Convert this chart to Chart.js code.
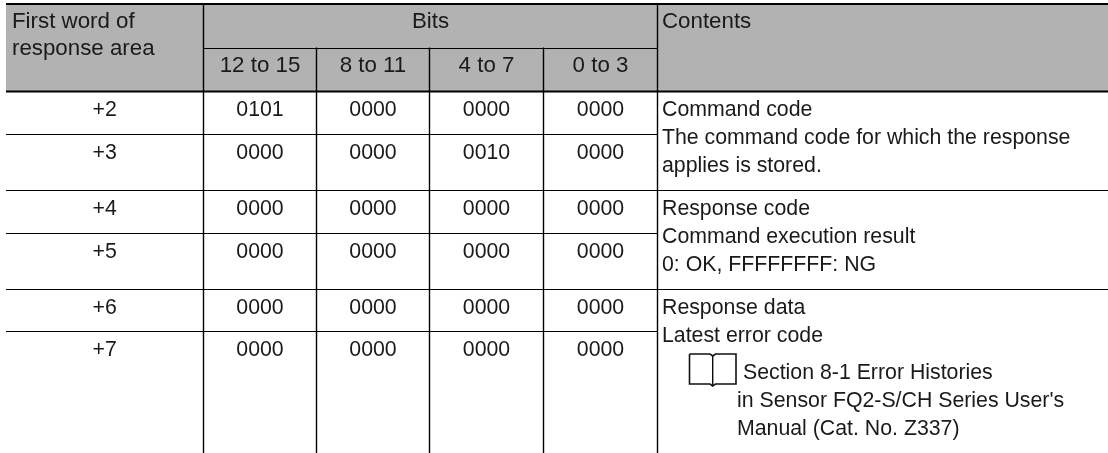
<!DOCTYPE html>
<html>
<head>
<meta charset="utf-8">
<script src="https://cdn.jsdelivr.net/npm/chart.js@4"></script>
<style>
  html, body { margin: 0; padding: 0; background: #fff; }
  #wrap { width: 1108px; height: 453px; }
</style>
</head>
<body>
<div id="wrap"><canvas id="tbl"></canvas></div>
<script>
// table content
const wordOffsets = ['+2', '+3', '+4', '+5', '+6', '+7'];
const bits12to15 = ['0101', '0000', '0000', '0000', '0000', '0000'];
const bits8to11 = ['0000', '0000', '0000', '0000', '0000', '0000'];
const bits4to7 = ['0000', '0010', '0000', '0000', '0000', '0000'];
const bits0to3 = ['0000', '0000', '0000', '0000', '0000', '0000'];
const bitColumns = [bits12to15, bits8to11, bits4to7, bits0to3];
const bitHeaders = ['12 to 15', '8 to 11', '4 to 7', '0 to 3'];
const firstHeader = ['First word of', 'response area'];
const contentsBlocks = [
  ['Command code', 'The command code for which the response', 'applies is stored.'],
  ['Response code', 'Command execution result', '0: OK, FFFFFFFF: NG'],
  ['Response data', 'Latest error code'],
];
const manualRef = ['Section 8-1 Error Histories', "in Sensor FQ2-S/CH Series User's", 'Manual (Cat. No. Z337)'];

// layout, the axes run in page pixels
const W = 1108, H = 453;
const colX = [6, 203.5, 316.5, 429.5, 543.5, 657.5, 1108];
const headTop = 4, headMid = 48.5, headBot = 91.5;
const rowLines = [91.5, 134.5, 190.5, 233.5, 289.5, 331.5, 453];
const font = '21.3px "Liberation Sans"';
const headFont = '22.3px "Liberation Sans"';
const ink = '#1a1a1a';
const lineGap = 28;

const seg = (x1, y1, x2, y2, w) => ({
  type: 'line',
  data: [{ x: x1, y: y1 }, { x: x2, y: y2 }],
  borderColor: '#000',
  borderWidth: w,
  pointRadius: 0,
  borderCapStyle: 'butt',
});

const datasets = [];
datasets.push(seg(colX[0], headTop, W, headTop, 2));
datasets.push(seg(colX[0], headBot, W, headBot, 2));
datasets.push(seg(colX[1], headMid, colX[5], headMid, 1));
colX.slice(1, 6).forEach((x, i) => {
  const inner = i >= 1 && i <= 3;
  datasets.push(seg(x, inner ? headMid - 1 : headTop, x, H, 1.4));
});
// row rules, the tall contents column only breaks at the block ends
rowLines.slice(1, 6).forEach((y, i) => {
  datasets.push(seg(colX[0], y, i % 2 === 1 ? W : colX[5], y, 1.2));
});

// book icon
const bookX = [689.5, 689.5, 710, 712.7, 715.5, 736, 736, 715.5, 712.7, 710, 689.5];
const bookY = [354, 384, 384, 386, 384, 384, 354, 354, 356, 354, 354];
datasets.push({
  type: 'line',
  data: bookX.map((x, i) => ({ x, y: bookY[i] })),
  borderColor: '#111',
  borderWidth: 1.6,
  pointRadius: 0,
});
datasets.push(seg(712.7, 356, 712.7, 385, 0.8));

const tablePlugin = {
  id: 'tablePlugin',
  beforeDatasetsDraw(chart) {
    const { ctx, scales: { x, y } } = chart;
    ctx.save();
    ctx.fillStyle = '#b2b2b2';
    ctx.fillRect(x.getPixelForValue(colX[0]), y.getPixelForValue(headTop), x.getPixelForValue(W) - x.getPixelForValue(colX[0]), y.getPixelForValue(headBot) - y.getPixelForValue(headTop));
    ctx.restore();
  },
  afterDatasetsDraw(chart) {
    const { ctx, scales: { x, y } } = chart;
    const put = (txt, px, py, align) => {
      ctx.textAlign = align;
      ctx.fillText(txt, x.getPixelForValue(px), y.getPixelForValue(py));
    };
    ctx.save();
    ctx.fillStyle = ink;
    ctx.textBaseline = 'alphabetic';

    ctx.font = headFont;
    put(firstHeader[0], 12, 28, 'left');
    put(firstHeader[1], 12, 55, 'left');
    put('Bits', (colX[1] + colX[5]) / 2, 28, 'center');
    put('Contents', 662, 28, 'left');
    bitHeaders.forEach((t, i) => put(t, (colX[i + 1] + colX[i + 2]) / 2, 72, 'center'));

    ctx.font = font;
    wordOffsets.forEach((t, r) => {
      const base = rowLines[r] + 24.5;
      put(t, (colX[0] + colX[1]) / 2, base, 'center');
      bitColumns.forEach((col, c) => put(col[r], (colX[c + 1] + colX[c + 2]) / 2, base, 'center'));
    });

    contentsBlocks.forEach((lines, b) => {
      lines.forEach((t, l) => put(t, 662, rowLines[b * 2] + 24.5 + l * lineGap, 'left'));
    });
    manualRef.forEach((t, l) => put(t, l === 0 ? 743 : 737, 379 + l * lineGap, 'left'));
    ctx.restore();
  }
};

new Chart(document.getElementById('tbl'), {
  type: 'scatter',
  data: { datasets },
  options: {
    responsive: true,
    maintainAspectRatio: false,
    animation: false,
    events: [],
    layout: { padding: 0 },
    plugins: { legend: { display: false }, tooltip: { enabled: false } },
    scales: {
      x: { type: 'linear', display: false, min: 0, max: W },
      y: { type: 'linear', display: false, min: 0, max: H, reverse: true },
    },
    elements: { line: { tension: 0 } },
  },
  plugins: [tablePlugin],
});
</script>
</body>
</html>
